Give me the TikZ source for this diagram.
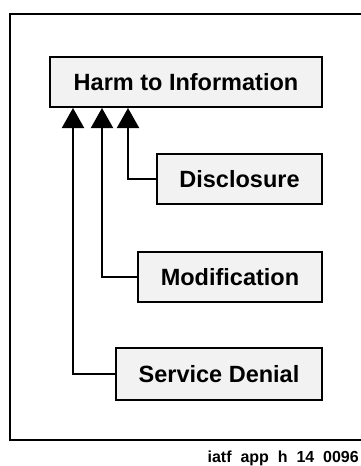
\documentclass[tikz,border=0pt]{standalone}
\usepackage{fontspec}
\setmainfont{Liberation Sans}
\usepackage{tikz}
\usetikzlibrary{arrows.meta}

\begin{document}
\begin{tikzpicture}[
  x=1pt, y=-1pt,
  harmbox/.style={draw, line width=2pt, fill=gray!10, minimum height=50pt, inner sep=0pt, font=\fontsize{23.5}{28}\selectfont\bfseries},
  arrow/.style={-{Triangle[length=20pt, width=22pt]}, line width=2pt}
]
\useasboundingbox (0,0) rectangle (360,466);
\draw[line width=1.2pt] (361,14) -- (10,14) -- (10,440) -- (361,440);
\node[harmbox, minimum width=272pt] (harm) at (186,82) {Harm to Information};
\node[harmbox, minimum width=165pt] (disc) at (239.5,179) {Disclosure};
\node[harmbox, minimum width=184pt] (modif) at (230,277) {Modification};
\node[harmbox, minimum width=206pt, minimum height=52pt] (denial) at (219,374) {Service Denial};
\node[anchor=east, inner sep=0pt, font=\fontsize{16}{18}\selectfont\bfseries] (tag) at (359,458) {iatf\ \ app\ \ h\ \ 14\ \ 0096};
\foreach \a/\d in {disc/79,modif/53,denial/24} \draw[arrow] (\a.west) -| ([xshift=\d]harm.south west);
\end{tikzpicture}
\end{document}
